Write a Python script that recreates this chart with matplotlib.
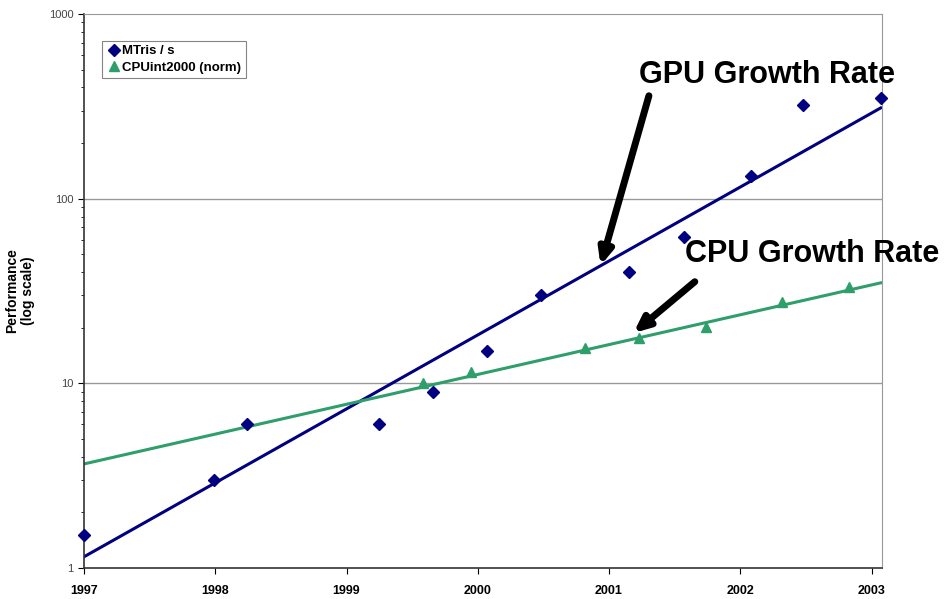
import numpy as np
import matplotlib
matplotlib.use("Agg")
import matplotlib.pyplot as plt
from matplotlib.ticker import FixedLocator, LogLocator, NullFormatter

plt.rcParams['font.family'] = ['Liberation Sans', 'DejaVu Sans']

# GPU throughput (million triangles / s)
gpu_year = [1997.0, 1997.99, 1998.24, 1999.25, 1999.66, 2000.07, 2000.48,
            2001.15, 2001.57, 2002.08, 2002.48, 2003.07]
gpu_val = [1.5, 3.0, 6.0, 6.0, 9.0, 15.0, 30.0, 40.0, 62.0, 132.0, 320.0, 350.0]

# CPU SPECint2000 (normalised)
cpu_year = [1999.58, 1999.95, 2000.82, 2001.23, 2001.74, 2002.32, 2002.83]
cpu_val = [10.1, 11.5, 15.6, 17.6, 20.2, 27.6, 33.2]

# exponential trend lines, end points
trend_year = [1997.0, 2003.07]
gpu_trend = [1.15, 310.0]
cpu_trend = [3.66, 35.0]

years = [1997, 1998, 1999, 2000, 2001, 2002, 2003]
yticks = [1, 10, 100, 1000]

navy = '#000080'
green = '#2E9E6B'

fig = plt.figure(figsize=(9.51, 5.99), dpi=100)
ax = fig.add_axes([84/951, 31/599, (882-84)/951, (568-14)/599])

ax.plot(trend_year, gpu_trend, color=navy, lw=2.2, zorder=2)
ax.plot(trend_year, cpu_trend, color=green, lw=2.2, zorder=2)
ax.plot(gpu_year, gpu_val, 'D', color=navy, ms=6, ls='none', label='MTris / s', zorder=3, clip_on=False)
ax.plot(cpu_year, cpu_val, '^', color=green, ms=7, ls='none', label='CPUint2000 (norm)', zorder=3, clip_on=False)

ax.set_yscale('log')
ax.set_ylim(1, 1000)
ax.set_xlim(1997, 2003.08)
ax.yaxis.set_major_locator(FixedLocator(yticks))
ax.set_yticklabels([str(v) for v in yticks], fontsize=8, color='#444444')
ax.yaxis.set_minor_locator(LogLocator(base=10, subs=np.arange(2, 10)))
ax.yaxis.set_minor_formatter(NullFormatter())
ax.set_xticks(years)
ax.set_xticklabels([str(y) for y in years], fontsize=9, fontweight='bold')
ax.tick_params(axis='x', length=4, direction='out', pad=8)
ax.tick_params(axis='y', which='major', length=4, direction='out')
ax.tick_params(axis='y', which='minor', length=2, direction='out')

for v in [10, 100]:
    ax.axhline(v, color='#999999', lw=1, zorder=1)
for s in ['top', 'right']:
    ax.spines[s].set_color('#999999')
for s in ['left', 'bottom']:
    ax.spines[s].set_color('#333333')
    ax.spines[s].set_linewidth(1.2)

ax.set_ylabel('Performance\n(log scale)', fontsize=10, fontweight='bold', labelpad=10)

leg = ax.legend(loc='upper left', bbox_to_anchor=(0.022, 0.952),
                prop={'weight': 'bold', 'size': 9.5}, frameon=True, fancybox=False,
                handletextpad=0.0, handlelength=1.2, borderpad=0.35, labelspacing=0.3,
                borderaxespad=0)
leg.get_frame().set_edgecolor('#666666')
leg.get_frame().set_linewidth(0.8)

ax.text(2002.2, 470, 'GPU Growth Rate', fontsize=22, fontweight='bold',
        ha='center', va='center', clip_on=False)
ax.text(2002.55, 50, 'CPU Growth Rate', fontsize=22, fontweight='bold',
        ha='center', va='center', clip_on=False)

arrow = dict(arrowstyle='-|>,head_width=0.4,head_length=0.9', color='black', lw=5)
ax.annotate('', xy=(2000.93, 42), xytext=(2001.31, 373), arrowprops=arrow)
ax.annotate('', xy=(2001.17, 18.3), xytext=(2001.67, 36.3), arrowprops=arrow)

fig.savefig('out.png', dpi=100)
